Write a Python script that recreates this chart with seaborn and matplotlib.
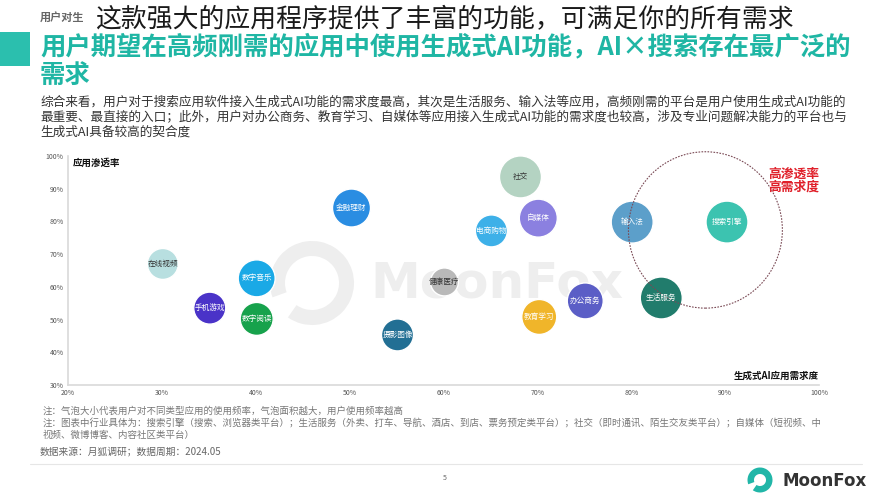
import matplotlib
matplotlib.use('Agg')
import matplotlib.pyplot as plt
import seaborn as sns
import pandas as pd
from matplotlib.patches import Ellipse, Wedge, Rectangle
from matplotlib.lines import Line2D

# ---------------- data ----------------
apps = ['在线视频', '手机游戏', '数字音乐', '数字阅读', '金融理财', '摄影图像', '健康医疗',
        '电商购物', '社交', '自媒体', '教育学习', '办公商务', '输入法', '生活服务', '搜索引擎']
demand = [30.1, 35.1, 40.1, 40.1, 50.2, 55.1, 60.1, 65.1, 68.2, 70.1, 70.2, 75.1, 80.1, 83.2, 90.2]
penetration = [67.0, 53.5, 62.6, 50.2, 84.1, 45.3, 61.5, 77.1, 93.6, 81.0, 50.8, 55.7, 79.8, 56.6, 79.8]
frequency = [240, 256, 342, 272, 361, 256, 196, 256, 441, 361, 306, 324, 441, 441, 441]
colors = ['#b8dfe0', '#4a33c8', '#1aa9e6', '#17a24c', '#2a8de2', '#226f94', '#b9b9b9',
          '#3db0e8', '#b4d3c2', '#8b80e0', '#f0b52a', '#5b5ec6', '#5c9fca', '#217c6c', '#3cc3b0']
dark_label = ['在线视频', '社交', '健康医疗']
x_ticks = [20, 30, 40, 50, 60, 70, 80, 90, 100]
y_ticks = [30, 40, 50, 60, 70, 80, 90, 100]

title_overlay = '这款强大的应用程序提供了丰富的功能，可满足你的所有需求'
title_main = ['用户期望在高频刚需的应用中使用生成式AI功能，AI×搜索存在最广泛的', '需求']
paragraph = ['综合来看，用户对于搜索应用软件接入生成式AI功能的需求度最高，其次是生活服务、输入法等应用，高频刚需的平台是用户使用生成式AI功能的',
             '最重要、最直接的入口；此外，用户对办公商务、教育学习、自媒体等应用接入生成式AI功能的需求度也较高，涉及专业问题解决能力的平台也与',
             '生成式AI具备较高的契合度']
notes = ['注：气泡大小代表用户对不同类型应用的使用频率，气泡面积越大，用户使用频率越高',
         '注：图表中行业具体为：搜索引擎（搜索、浏览器类平台）；生活服务（外卖、打车、导航、酒店、到店、票务预定类平台）；社交（即时通讯、陌生交友类平台）；自媒体（短视频、中',
         '视频、微博博客、内容社区类平台）']
source = '数据来源：月狐调研；数据周期：2024.05'

# ---------------- style ----------------
sns.set_theme(style='white')
plt.rcParams['font.family'] = ['Noto Sans CJK SC', 'DejaVu Sans']
plt.rcParams['axes.unicode_minus'] = False

W, H = 890, 500
fig = plt.figure(figsize=(W / 100, H / 100), dpi=100)
fig.patch.set_facecolor('white')


def fx(x):
    return x / W


def fy(y):
    return 1 - y / H


TEAL = '#1fb6a4'

# header
fig.add_artist(Rectangle((0, fy(66)), fx(30), (66 - 32) / H, transform=fig.transFigure,
                         color='#2bbfae', lw=0))
fig.text(fx(40), fy(17), '用户对生', fontsize=8, fontweight='bold', color='#666', va='center')
fig.text(fx(95), fy(20), title_overlay, fontsize=18.6, color='#1a1a1a', va='center')
fig.text(fx(40), fy(47), title_main[0], fontsize=18.3, fontweight='bold', color=TEAL, va='center')
fig.text(fx(40), fy(75), title_main[1], fontsize=18.3, fontweight='bold', color=TEAL, va='center')
for i, line in enumerate(paragraph):
    fig.text(fx(40), fy(102 + 15 * i), line, fontsize=9.1, color='#333', va='center')

# watermark
fig.add_artist(Wedge((312 / 100, (H - 283) / 100), 0.42, 235, 560, width=0.15,
                     transform=fig.dpi_scale_trans, color='#eeeeee', lw=0, zorder=-2))
fig.text(fx(370), fy(283), 'MoonFox', fontsize=36, fontweight='bold', color='#eeeeee',
         va='center', ha='left', family='DejaVu Sans', zorder=-2)

# ---------------- chart ----------------
ax = fig.add_axes([fx(68), fy(385), (819 - 68) / W, (385 - 156) / H])
ax.patch.set_alpha(0)
df = pd.DataFrame({'app': apps, 'demand': demand, 'pen': penetration, 'freq': frequency})
sns.scatterplot(data=df, x='demand', y='pen', hue='app', palette=dict(zip(apps, colors)),
                size='freq', sizes=(406, 914), size_norm=(196, 441), legend=False,
                edgecolor='white', linewidth=1, alpha=1, ax=ax, zorder=3, clip_on=False)
for a, xv, yv in zip(apps, demand, penetration):
    ax.text(xv, yv, a, fontsize=5.5, ha='center', va='center', zorder=5,
            color='#333' if a in dark_label else 'white')

ax.add_patch(Ellipse((87.9, 77.4), 16.4, 47.8, fill=False, ls=(0, (1.5, 1.2)),
                     ec='#7a4a55', lw=0.8, zorder=4, clip_on=False))
ax.text(100, 92.5, '高渗透率\n高需求度', fontsize=9.2, fontweight='bold', color='#e0202a',
        ha='right', va='center', linespacing=1.05, zorder=5)

ax.set_xlim(20, 100)
ax.set_ylim(30, 100)
ax.set_xticks(x_ticks)
ax.set_xticklabels([f'{v}%' for v in x_ticks])
ax.set_yticks(y_ticks)
ax.set_yticklabels([f'{v}%' for v in y_ticks])
ax.tick_params(length=0, labelsize=5, labelcolor='#555')
ax.tick_params(axis='x', pad=3)
ax.tick_params(axis='y', pad=3)
for s in ['top', 'right']:
    ax.spines[s].set_visible(False)
for s in ['left', 'bottom']:
    ax.spines[s].set_color('#d9d9d9')
    ax.spines[s].set_linewidth(1.2)
ax.set_xlabel('')
ax.set_ylabel('')
ax.text(0.006, 0.97, '应用渗透率', transform=ax.transAxes, fontsize=6.8, fontweight='bold',
        color='#111', va='center', ha='left')
ax.text(1.0, 0.04, '生成式AI应用需求度', transform=ax.transAxes, fontsize=6.8, fontweight='bold',
        color='#111', va='center', ha='right')

# ---------------- notes / footer ----------------
for i, line in enumerate(notes):
    fig.text(fx(43), fy(411 + 12.3 * i), line, fontsize=6.8, color='#777', va='center')
fig.text(fx(40), fy(451), source, fontsize=7, color='#666', va='center')
fig.add_artist(Line2D([fx(30), fx(862)], [fy(464), fy(464)], color='#e6e6e6', lw=0.8))
fig.text(fx(445), fy(478), '5', fontsize=5, color='#666', va='center', ha='center')
fig.add_artist(Wedge((760 / 100, (H - 480) / 100), 0.125, 235, 560, width=0.065,
                     transform=fig.dpi_scale_trans, color='#21b6a8', lw=0))
fig.text(fx(783), fy(481), 'MoonFox', fontsize=12, fontweight='bold', color='#333',
         va='center', ha='left', family='DejaVu Sans')

fig.savefig('out.png', dpi=100)
